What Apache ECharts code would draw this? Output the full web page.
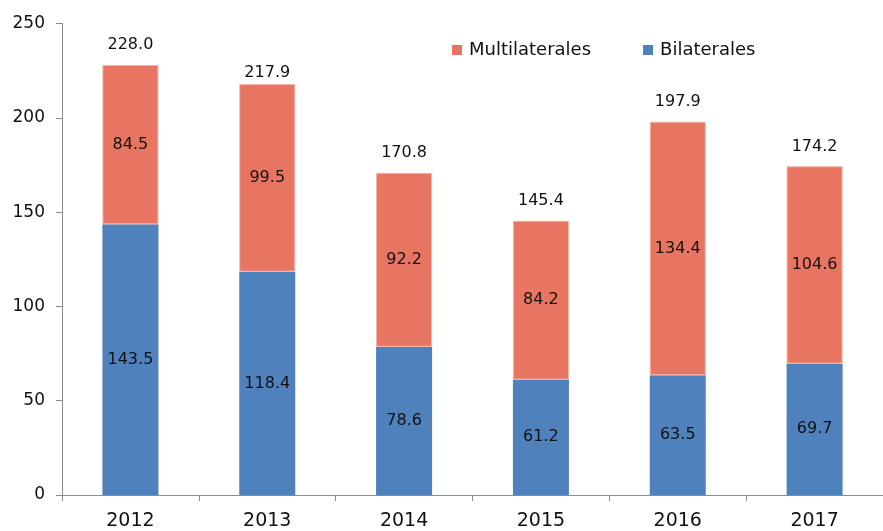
<!DOCTYPE html>
<html>
<head>
<meta charset="utf-8">
<script src="https://cdn.jsdelivr.net/npm/echarts@6/dist/echarts.min.js"></script>
<style>html,body{margin:0;padding:0;background:#fff;}#c{width:883px;height:531px;}</style>
</head>
<body>
<div id="c"></div>
<script>
const categories = ['2012', '2013', '2014', '2015', '2016', '2017'];
const bilaterales = [143.5, 118.4, 78.6, 61.2, 63.5, 69.7];
const multilaterales = [84.5, 99.5, 92.2, 84.2, 134.4, 104.6];
const totals = [228.0, 217.9, 170.8, 145.4, 197.9, 174.2];
const yTicks = [0, 50, 100, 150, 200, 250];

const FONT = 'DejaVu Sans';
const TXT = '#111111';
const chart = echarts.init(document.getElementById('c'), null, {renderer: 'canvas'});
chart.setOption({
  animation: false,
  backgroundColor: '#ffffff',
  textStyle: {fontFamily: FONT},
  grid: {left: 62, top: 23.5, width: 832, height: 472, containLabel: false},
  legend: {
    data: ['Multilaterales', 'Bilaterales'],
    left: 447, top: 36,
    itemWidth: 10, itemHeight: 10, itemGap: 52,
    icon: 'rect',
    itemStyle: {borderWidth: 0},
    textStyle: {fontFamily: FONT, fontSize: 18, color: TXT, padding: [0, 0, 0, 2]}
  },
  xAxis: {
    type: 'category',
    data: categories,
    axisLine: {lineStyle: {color: '#8c8c8c', width: 1}},
    axisTick: {show: true, length: 6, alignWithLabel: false, lineStyle: {color: '#8c8c8c'}},
    axisLabel: {fontFamily: FONT, fontSize: 19, color: TXT, margin: 17}
  },
  yAxis: {
    type: 'value',
    min: yTicks[0], max: yTicks[yTicks.length - 1], interval: 50,
    axisLine: {show: true, lineStyle: {color: '#8c8c8c', width: 1}},
    axisTick: {show: true, length: 6, lineStyle: {color: '#8c8c8c'}},
    splitLine: {show: false},
    axisLabel: {fontFamily: FONT, fontSize: 17, color: TXT, margin: 17}
  },
  series: [
    {
      name: 'Bilaterales', type: 'bar', stack: 'a', barWidth: 56,
      data: bilaterales,
      itemStyle: {color: '#4f81bd'},
      label: {show: true, position: 'inside', fontFamily: FONT, fontSize: 16, color: TXT,
        formatter: p => p.value.toFixed(1)}
    },
    {
      name: 'Multilaterales', type: 'bar', stack: 'a', barWidth: 56,
      data: multilaterales,
      itemStyle: {color: '#e87562', borderColor: '#f3b3a6', borderWidth: 1},
      label: {show: true, position: 'inside', fontFamily: FONT, fontSize: 16, color: TXT,
        formatter: p => p.value.toFixed(1)}
    },
    {
      name: 'Total', type: 'scatter', symbolSize: 0.01, silent: true,
      itemStyle: {opacity: 1, color: TXT},
      data: totals.map((v, i) => ({value: v, label: {distance: i === 1 ? 3 : 12}})),
      label: {show: true, position: 'top', fontFamily: FONT, fontSize: 16, color: TXT, opacity: 1,
        formatter: p => totals[p.dataIndex].toFixed(1)}
    }
  ]
});
</script>
</body>
</html>
